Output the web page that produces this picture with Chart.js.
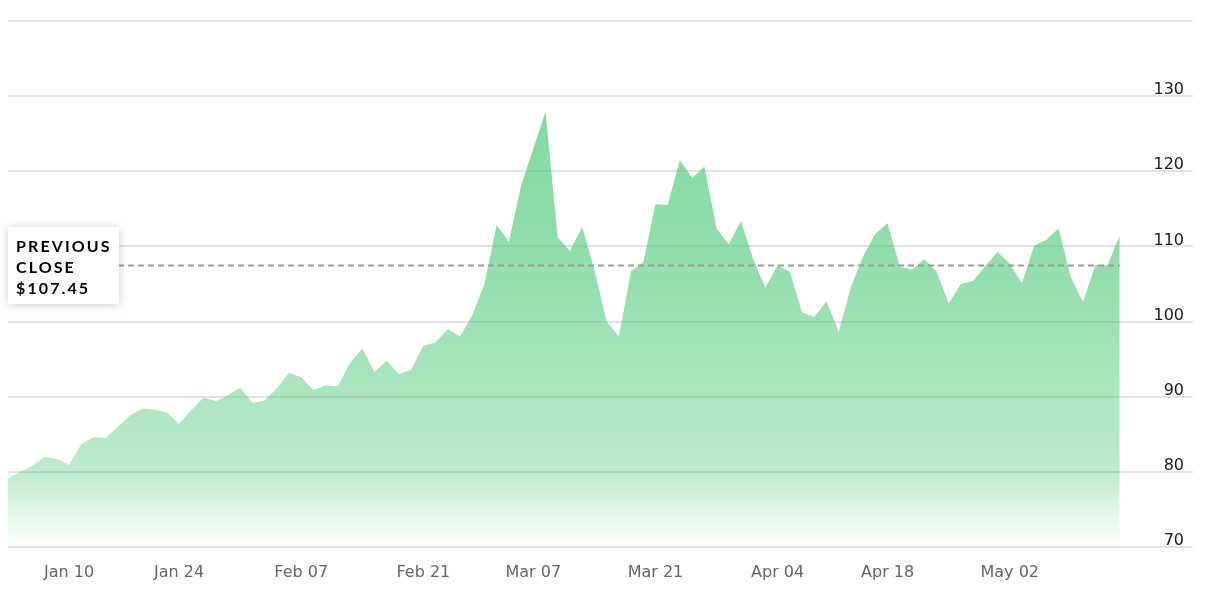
<!DOCTYPE html>
<html lang="en">
<head>
<meta charset="UTF-8">
<title>Price history</title>
<script src="https://cdn.jsdelivr.net/npm/chart.js"></script>
<style>
  html, body { margin: 0; padding: 0; background: #fff; }
  .wrap { position: relative; width: 1208px; height: 606px; }
  #prevBox {
    position: absolute; left: 8px; top: 228px; width: 97px;
    padding: 8px 6px 6px 8px; background: #fff;
    box-shadow: 0 1px 9px rgba(0, 0, 0, 0.2);
    font: 700 16px Lato, sans-serif; letter-spacing: 2.1px;
    line-height: 21px; color: #000; white-space: nowrap;
  }
</style>
</head>
<body>
<div class="wrap">
  <canvas id="priceChart" width="1208" height="606"></canvas>
  <div id="prevBox">PREVIOUS<br>CLOSE<br><span id="prevValue"></span></div>
</div>
<script>
// daily closes, Jan 3 to May 13 (trading days)
const closes = [
  79.1, 80.0, 80.8, 82.0, 81.7, 80.9, 83.7, 84.6, 84.5, 86.0,
  87.5, 88.4, 88.3, 87.9, 86.4, 88.2, 89.9, 89.4, 90.2, 91.2,
  89.2, 89.5, 91.1, 93.2, 92.6, 90.9, 91.5, 91.4, 94.5, 96.4,
  93.3, 94.8, 93.0, 93.6, 96.8, 97.2, 99.0, 98.0, 100.8, 105.0,
  112.9, 110.6, 118.1, 123.0, 127.9, 111.2, 109.4, 112.6, 106.9, 100.0,
  98.0, 106.7, 107.9, 115.6, 115.5, 121.5, 119.1, 120.6, 112.4, 110.3,
  113.4, 108.3, 104.5, 107.5, 106.6, 101.2, 100.6, 102.7, 98.6, 104.6,
  108.7, 111.7, 113.1, 107.3, 106.9, 108.3, 106.7, 102.4, 105.0, 105.4,
  107.4, 109.3, 107.7, 105.1, 110.1, 110.9, 112.4, 105.9, 102.6, 107.5,
  107.5, 111.5
];
const prevClose = 107.45;

// x axis labels and the trading-day index they sit on
const xTickLabels = ['Jan 10', 'Jan 24', 'Feb 07', 'Feb 21', 'Mar 07', 'Mar 21', 'Apr 04', 'Apr 18', 'May 02'];
const xTickIndex = [5, 14, 24, 34, 43, 53, 63, 72, 82];
const yTicks = [70, 80, 90, 100, 110, 120, 130];

document.getElementById('prevValue').textContent = '$' + prevClose.toFixed(2);

const green = a => `rgba(72, 200, 115, ${a})`;

// keep the "previous close" box centred on the dashed line
const boxPlugin = {
  id: 'prevBox',
  afterRender(chart) {
    const box = document.getElementById('prevBox');
    const y = chart.scales.y.getPixelForValue(prevClose);
    box.style.top = Math.round(y - box.offsetHeight / 2) + 'px';
  }
};

const ctx = document.getElementById('priceChart').getContext('2d');
new Chart(ctx, {
  type: 'line',
  data: {
    datasets: [
      {
        label: 'Previous close',
        data: [{ x: 0, y: prevClose }, { x: closes.length - 1, y: prevClose }],
        borderColor: '#9b9b9b',
        borderWidth: 2,
        borderDash: [6, 4],
        pointRadius: 0,
        fill: false,
        order: 0
      },
      {
        label: 'Close',
        data: closes.map((v, i) => ({ x: i, y: v })),
        borderWidth: 0,
        pointRadius: 0,
        tension: 0,
        fill: 'start',
        order: 1,
        backgroundColor: c => {
          const area = c.chart.chartArea;
          if (!area) return green(0.6);
          const g = c.chart.ctx.createLinearGradient(0, area.top, 0, area.bottom);
          g.addColorStop(0, green(0.74));
          g.addColorStop(0.5, green(0.58));
          g.addColorStop(0.85, green(0.37));
          g.addColorStop(1, green(0));
          return g;
        }
      }
    ]
  },
  options: {
    responsive: false,
    animation: false,
    layout: { padding: { left: 8, top: 21, right: 0, bottom: 0 } },
    plugins: { legend: { display: false }, tooltip: { enabled: false } },
    scales: {
      x: {
        type: 'linear',
        min: 0,
        max: 97,
        grid: { display: false },
        border: { display: false },
        afterFit: s => { s.height = 59; },
        afterBuildTicks: a => { a.ticks = xTickIndex.map(v => ({ value: v })); },
        ticks: {
          autoSkip: false,
          maxRotation: 0,
          padding: 8,
          color: '#666',
          font: { family: 'DejaVu Sans', size: 16 },
          callback: v => xTickLabels[xTickIndex.indexOf(v)] || ''
        }
      },
      y: {
        position: 'right',
        min: 70,
        max: 140,
        afterFit: s => { s.width = 15; },
        afterBuildTicks: a => { a.ticks = yTicks.concat([140]).map(v => ({ value: v })); },
        grid: { color: '#e3e3e7', lineWidth: 2, drawTicks: false },
        border: { display: false },
        ticks: {
          mirror: true,
          padding: -9,
          labelOffset: -6,
          color: '#1a1a1a',
          font: { family: 'DejaVu Sans', size: 16 },
          callback: v => yTicks.includes(v) ? v : ''
        }
      }
    }
  },
  plugins: [boxPlugin]
});
</script>
</body>
</html>
